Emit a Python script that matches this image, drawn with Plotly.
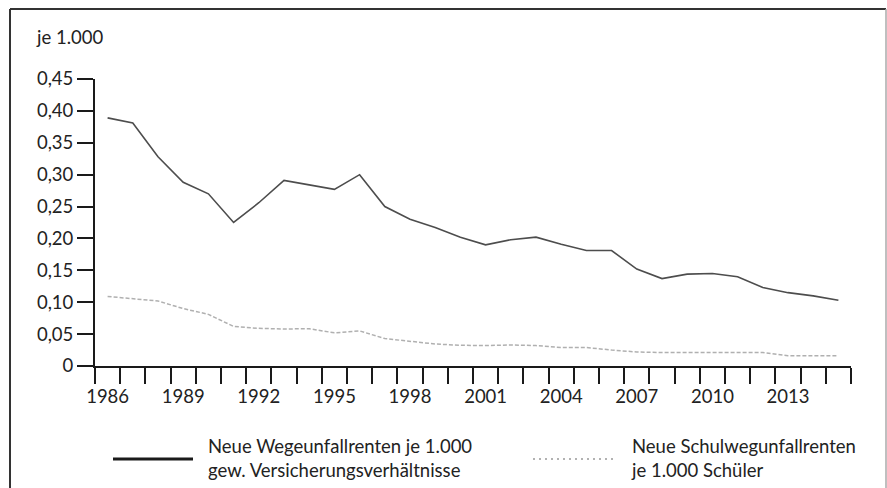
import plotly.graph_objects as go

years = list(range(1986, 2016))
wege = [0.389, 0.381, 0.328, 0.288, 0.270, 0.225, 0.256, 0.291, 0.284, 0.277,
        0.300, 0.250, 0.230, 0.217, 0.202, 0.190, 0.198, 0.202, 0.191, 0.181,
        0.181, 0.152, 0.137, 0.144, 0.145, 0.140, 0.123, 0.115, 0.110, 0.103]
schul = [0.109, 0.106, 0.102, 0.090, 0.081, 0.062, 0.059, 0.058, 0.0585, 0.052,
         0.055, 0.043, 0.039, 0.0345, 0.0325, 0.032, 0.033, 0.032, 0.029, 0.029,
         0.025, 0.022, 0.021, 0.021, 0.021, 0.020, 0.021, 0.016, 0.016, 0.016]
y_ticks = [0, 0.05, 0.10, 0.15, 0.20, 0.25, 0.30, 0.35, 0.40, 0.45]
y_labels = ["0", "0,05", "0,10", "0,15", "0,20", "0,25", "0,30", "0,35", "0,40", "0,45"]
x_ticks = list(range(1986, 2014, 3))
x_labels = [str(v) for v in x_ticks]
legend_1 = "Neue Wegeunfallrenten je 1.000<br>gew. Versicherungsverhältnisse"
legend_2 = "Neue Schulwegunfallrenten<br>je 1.000 Schüler"
unit_label = "je 1.000"

W, H = 887, 488
L, R, T, B = 95, 851, 79, 366
pw, ph = R - L, B - T


def px(x):
    return (x - L) / pw


def py(y):
    return (B - y) / ph


FONT = "Lato"
FS = 18.5
TXT = "#222222"

fig = go.Figure()
fig.add_trace(go.Scatter(x=years, y=wege, mode="lines",
                         line=dict(color="#4d4d4d", width=1.6),
                         showlegend=False, hoverinfo="skip"))
fig.add_trace(go.Scatter(x=years, y=schul, mode="lines",
                         line=dict(color="#b0b0b0", width=1.5, dash="4px,2px"),
                         showlegend=False, hoverinfo="skip"))

fig.update_layout(
    width=W, height=H,
    margin=dict(l=L, r=W - R, t=T, b=H - B, pad=0),
    paper_bgcolor="white", plot_bgcolor="white",
    font=dict(family=FONT, size=FS, color=TXT),
    showlegend=False,
)
fig.update_xaxes(
    range=[1985.5, 2015.5], showgrid=False, zeroline=False,
    showline=True, linecolor="#1a1a1a", linewidth=2,
    tickmode="array", tickvals=x_ticks, ticktext=x_labels,
    ticks="outside", ticklen=13, tickcolor="rgba(0,0,0,0)",
    tickfont=dict(family=FONT, size=FS, color=TXT),
    minor=dict(tickmode="linear", tick0=1985.5, dtick=1, ticks="outside",
               ticklen=16, tickwidth=2, tickcolor="#1a1a1a", showgrid=False),
)
fig.update_yaxes(
    range=[0, 0.45], showgrid=False, zeroline=False,
    showline=True, linecolor="#1a1a1a", linewidth=2,
    tickmode="array", tickvals=y_ticks, ticktext=y_labels,
    ticks="outside", ticklen=16, tickwidth=2, tickcolor="#1a1a1a",
    tickfont=dict(family=FONT, size=FS, color=TXT),
)

# frame
fig.add_shape(type="line", xref="paper", yref="paper",
              x0=px(10), x1=px(10), y0=py(9), y1=py(500),
              line=dict(color="#333333", width=2))
fig.add_shape(type="line", xref="paper", yref="paper",
              x0=px(10), x1=px(886), y0=py(9), y1=py(9),
              line=dict(color="#333333", width=2))
fig.add_shape(type="line", xref="paper", yref="paper",
              x0=px(886), x1=px(886), y0=py(9), y1=py(500),
              line=dict(color="#aaaaaa", width=1.5))

# legend samples
fig.add_shape(type="line", xref="paper", yref="paper",
              x0=px(113), x1=px(193), y0=py(459), y1=py(459),
              line=dict(color="#1a1a1a", width=3))
fig.add_shape(type="line", xref="paper", yref="paper",
              x0=px(533), x1=px(613), y0=py(459), y1=py(459),
              line=dict(color="#999999", width=1.5, dash="2px,4px"))

fig.add_annotation(x=px(206), y=py(458), xref="paper", yref="paper",
                   text=legend_1, showarrow=False, xanchor="left", yanchor="middle",
                   align="left", font=dict(family=FONT, size=FS, color=TXT))
fig.add_annotation(x=px(629), y=py(458), xref="paper", yref="paper",
                   text=legend_2, showarrow=False, xanchor="left", yanchor="middle",
                   align="left", font=dict(family=FONT, size=FS, color=TXT))
fig.add_annotation(x=px(34), y=py(37), xref="paper", yref="paper",
                   text=unit_label, showarrow=False, xanchor="left", yanchor="middle",
                   align="left", font=dict(family=FONT, size=FS, color=TXT))

fig.write_html("out.html", config={"displayModeBar": False},
               post_script="document.body.style.margin='0';document.body.style.padding='0';")
